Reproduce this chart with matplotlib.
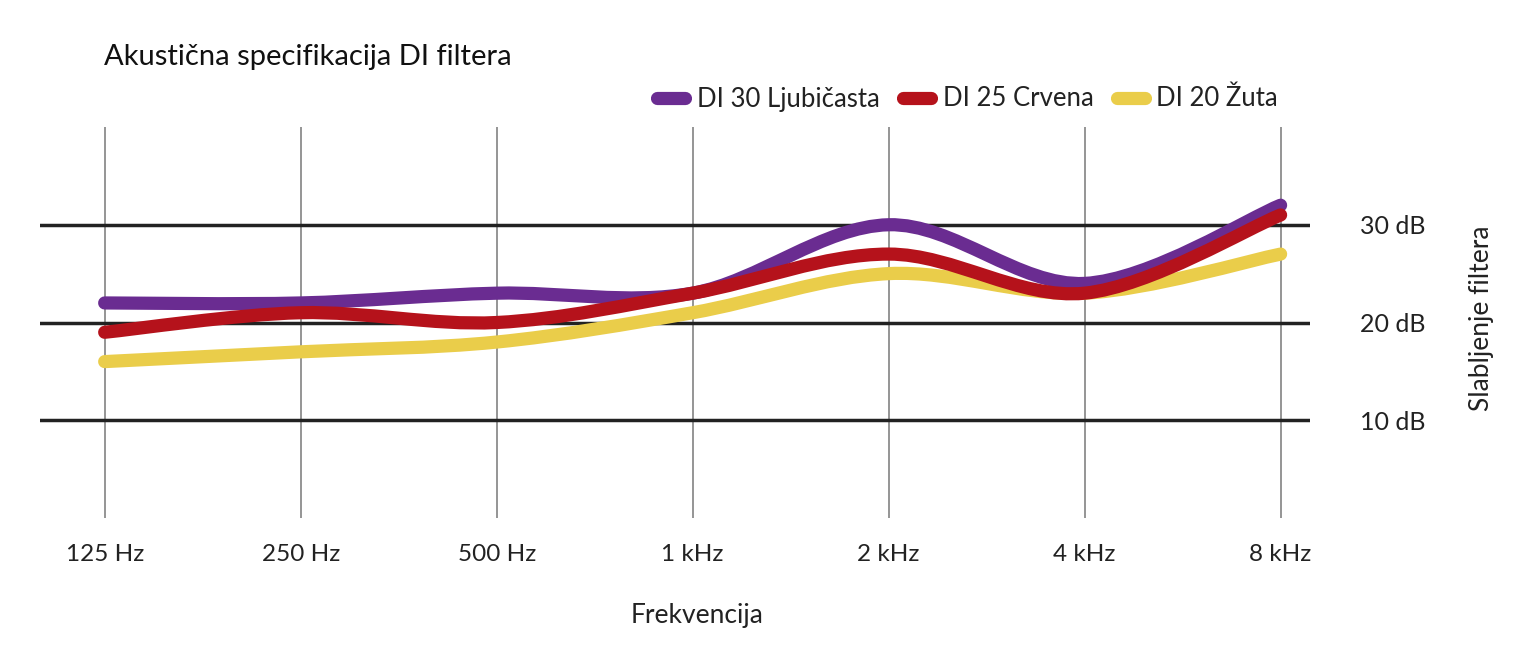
import matplotlib.pyplot as plt
import numpy as np
from matplotlib.path import Path
from matplotlib.patches import PathPatch
from matplotlib.lines import Line2D

plt.rcParams['font.family'] = ['Lato', 'DejaVu Sans']

frekvencije = ['125 Hz', '250 Hz', '500 Hz', '1 kHz', '2 kHz', '4 kHz', '8 kHz']
di30 = [22, 22, 23, 23, 30, 24, 32]
di25 = [19, 21, 20, 23, 27, 23, 31]
di20 = [16, 17, 18, 21, 25, 23, 27]
nazivi = ['DI 30 Ljubičasta', 'DI 25 Crvena', 'DI 20 Žuta']
boje = ['#6a2c91', '#b5121b', '#eacd4a']


def glatka_putanja(x, y):
    # catmull-rom -> bezier, kao "smoothed line" u excelu
    p = np.column_stack([x, y]).astype(float)
    n = len(p)
    verts = [p[0]]
    codes = [Path.MOVETO]
    for i in range(n - 1):
        p0 = p[i - 1] if i > 0 else p[i]
        p3 = p[i + 2] if i + 2 < n else p[i + 1]
        c1 = p[i] + (p[i + 1] - p0) / 6
        c2 = p[i + 1] - (p3 - p[i]) / 6
        verts += [c1, c2, p[i + 1]]
        codes += [Path.CURVE4] * 3
    return Path(verts, codes)


fig = plt.figure(figsize=(15.36, 6.72), dpi=100)
ax = fig.add_axes([40 / 1536, 1 - 518 / 672, 1270 / 1536, 391 / 672])
ax.set_xlim(-0.33, 6.15)
ax.set_ylim(0, 40)

x = np.arange(len(frekvencije))
for xi in x:
    ax.plot([xi, xi], [0, 40], color='#8c8c8c', lw=1.3, zorder=1)
for yv in [10, 20, 30]:
    ax.axhline(yv, color='#222222', lw=2.5, zorder=1)

serije = [di30, di25, di20]
redoslijed = [3, 4, 2]
for s, b, z in zip(serije, boje, redoslijed):
    ax.add_patch(PathPatch(glatka_putanja(x, s), fill=False, edgecolor=b, lw=9.5,
                           capstyle='round', joinstyle='round', zorder=z))

for sp in ax.spines.values():
    sp.set_visible(False)
ax.set_xticks(x)
ax.set_xticklabels(frekvencije, fontsize=17.5, color='#222222')
ax.tick_params(axis='x', length=0, pad=19)
ax.yaxis.tick_right()
ax.set_yticks([10, 20, 30])
ax.set_yticklabels(['10 dB', '20 dB', '30 dB'], fontsize=18, color='#222222')
ax.tick_params(axis='y', length=0, pad=36)

fig.text(697 / 1536, 1 - 615 / 672, 'Frekvencija', fontsize=19, color='#222222',
         ha='center', va='center')
fig.text(1481 / 1536, 1 - 318 / 672, 'Slabljenje filtera', fontsize=19, color='#222222',
         ha='center', va='center', rotation=90)
fig.text(104 / 1536, 1 - 57 / 672, 'Akustična specifikacija DI filtera', fontsize=21,
         color='#111111', ha='left', va='center')

ruke = [Line2D([0], [0], color=b, lw=9.5, solid_capstyle='round') for b in boje]
fig.legend(ruke, nazivi, loc='center right', bbox_to_anchor=(1296 / 1536, 1 - 99 / 672),
           ncol=3, frameon=False, fontsize=18.5, handlelength=1.1, handletextpad=0.45,
           columnspacing=0.9, labelcolor='#222222', borderpad=0.2)

fig.savefig('out.png', dpi=100, facecolor='white')
